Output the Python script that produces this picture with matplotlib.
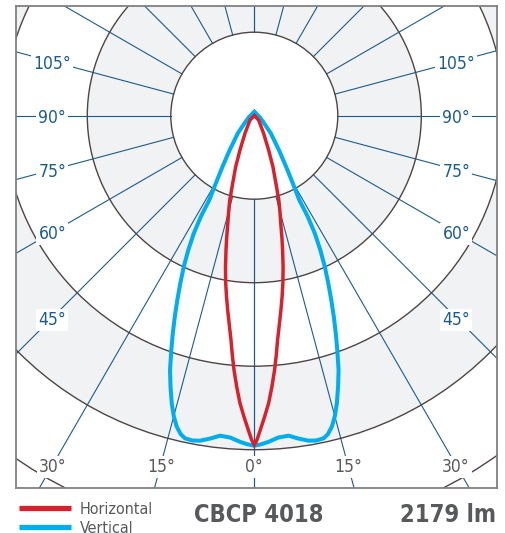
import numpy as np
import matplotlib
matplotlib.use('Agg')
import matplotlib.pyplot as plt
from matplotlib.patches import Circle

# polar grid: equally spaced intensity rings, spokes every 15 deg
rings = [1, 2, 3, 4, 5]
ring_fill = ['#ffffff', '#f0f2f4', '#ffffff', '#f0f2f4', '#ffffff']
spoke_angles = [0, 15, 30, 45, 60, 75, 90, 105, 120, 135, 150, 165, 180]
side_labels = [105, 90, 75, 60, 45]
bottom_labels = [30, 15, 0]

# half curves, angle from nadir (deg) -> intensity in ring units
horiz_deg = [0, 0.46, 1.09, 1.96, 2.85, 3.72, 4.56, 5.25, 5.93, 6.81, 7.80, 8.73, 9.68, 10.80,
             11.90, 12.77, 13.68, 14.87, 16.21, 17.72, 20.04, 22.63, 27.85, 45.0, 90.0]
horiz_val = [3.944, 3.884, 3.765, 3.607, 3.448, 3.252, 3.055, 2.878, 2.701, 2.524, 2.349, 2.193, 2.036, 1.841,
             1.643, 1.496, 1.347, 1.200, 1.051, 0.850, 0.650, 0.445, 0.238, 0.073, 0.0]

vert_deg = [0, 1.2, 2.49, 4.27, 6.12, 7.76, 9.49, 10.81, 12.12, 13.0, 14.01, 15.0, 16.02, 17.18,
            18.34, 19.50, 20.53, 21.58, 22.67, 23.82, 25.03, 26.17, 27.22, 27.91, 28.09, 29.66,
            31.94, 35.65, 43.15, 55, 80, 180]
vert_val = [3.952, 3.936, 3.910, 3.865, 3.854, 3.902, 3.946, 3.960, 3.952, 3.915, 3.838, 3.726, 3.583, 3.397,
            3.208, 2.977, 2.783, 2.589, 2.392, 2.194, 1.996, 1.792, 1.584, 1.369, 1.145, 0.932,
            0.720, 0.505, 0.289, 0.13, 0.06, 0.045]

legend_names = ['Horizontal', 'Vertical']
product = 'CBCP 4018'
flux = '2179 lm'

RED = '#d7222e'
BLUE = '#00aeef'
SPOKE = '#1c5c8c'
RING = '#4d4544'
GREY_TXT = '#58595b'

plt.rcParams['font.family'] = ['DejaVu Sans']
plt.rcParams['font.stretch'] = 'condensed'

W, H = 505, 533
u = 83.5            # px per ring
cx, cy = 254.3, 115.7
fl, fr, ft, fb = 16, 497, 6, 488

fig = plt.figure(figsize=(W / 100, H / 100), dpi=100)
ax = fig.add_axes([fl / W, 1 - fb / H, (fr - fl) / W, (fb - ft) / H])
ax.set_xlim((fl - cx) / u, (fr - cx) / u)
ax.set_ylim((cy - fb) / u, (cy - ft) / u)
ax.set_xticks([])
ax.set_yticks([])
for s in ax.spines.values():
    s.set_color('#808080')
    s.set_linewidth(1.3)
    s.set_zorder(10)

# ring fills (largest first) and outlines
for r, c in sorted(zip(rings, ring_fill), reverse=True):
    ax.add_patch(Circle((0, 0), r, facecolor=c, edgecolor='none', zorder=1))
for r in rings:
    ax.add_patch(Circle((0, 0), r, facecolor='none', edgecolor=RING, lw=1.0, zorder=3))

# spokes from inner ring outwards
for a in spoke_angles:
    for sgn in (-1, 1):
        t = np.radians(sgn * a)
        ax.plot([rings[0] * np.sin(t), 7 * np.sin(t)], [-rings[0] * np.cos(t), -7 * np.cos(t)],
                color=SPOKE, lw=0.8, zorder=2)

# angle labels
side_x = 202 / u
bot_y = -349 / u
box = dict(boxstyle='square,pad=0.12', facecolor='white', edgecolor='none')
for a in side_labels:
    t = np.radians(a)
    y = -side_x * np.cos(t) / np.sin(t)
    for sgn in (-1, 1):
        ax.text(sgn * side_x, y, f'{a}°', color=SPOKE, fontsize=12.5, ha='center',
                va='center_baseline', bbox=box, zorder=5)
for a in bottom_labels:
    t = np.radians(a)
    x = -bot_y * np.tan(t)
    for sgn in ((1,) if a == 0 else (-1, 1)):
        ax.text(sgn * x, bot_y, f'{a}°', color=GREY_TXT, fontsize=12.5, ha='center',
                va='center_baseline', bbox=box, zorder=5)


def curve(deg, val):
    d = np.array(deg, dtype=float)
    v = np.array(val, dtype=float)
    full_d = np.concatenate([-d[::-1], d[1:]])
    full_v = np.concatenate([v[::-1], v[1:]])
    t = np.radians(full_d)
    return full_v * np.sin(t), -full_v * np.cos(t)


vx, vy = curve(vert_deg, vert_val)
hx, hy = curve(horiz_deg, horiz_val)
ax.plot(vx, vy, color=BLUE, lw=2.9, zorder=6, solid_joinstyle='round')
ax.plot(hx, hy, color=RED, lw=2.5, zorder=7, solid_joinstyle='miter')

# footer: legend, product name, flux
fax = fig.add_axes([0, 0, 1, 1])
fax.set_xlim(0, W)
fax.set_ylim(H, 0)
fax.axis('off')
fax.patch.set_alpha(0)
fax.plot([19, 71], [508, 508], color=RED, lw=3.8, solid_capstyle='butt')
fax.plot([19, 71], [527, 527], color=BLUE, lw=3.8, solid_capstyle='butt')
fax.text(80, 508, legend_names[0], color=GREY_TXT, fontsize=11.5, ha='left', va='center_baseline')
fax.text(80, 527, legend_names[1], color=GREY_TXT, fontsize=11.5, ha='left', va='center_baseline')
fax.text(258.5, 512, product, color=GREY_TXT, fontsize=17, fontweight='bold', ha='center',
         va='center_baseline')
fax.text(496, 512, flux, color=GREY_TXT, fontsize=17, fontweight='bold', ha='right',
         va='center_baseline')

fig.savefig('out.png', dpi=100, facecolor='white')
